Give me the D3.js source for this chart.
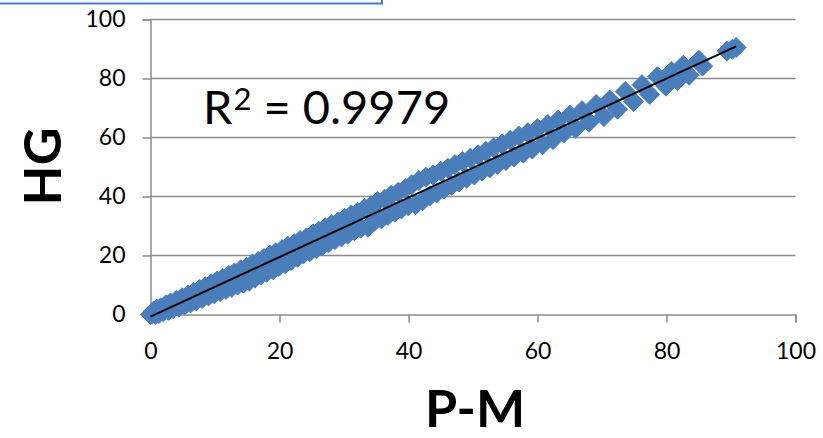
<!DOCTYPE html>
<html>
<head>
<meta charset="utf-8">
<script src="https://cdn.jsdelivr.net/npm/d3@7"></script>
<style>
  html, body { margin: 0; padding: 0; background: #fff; }
  svg { display: block; }
  text { font-family: Lato, "Open Sans", sans-serif; fill: #000; }
</style>
</head>
<body>
<svg id="chart" width="823" height="438"></svg>
<script>
// P-M readings (x) and matching HG readings (y)
const pmValues = [
  0, 0.2, 0.5, 0.8, 1, 1.3, 1.6, 2, 2.4, 2.8, 3.1, 3.5, 4, 4.4, 4.9, 5.3, 5.8, 6.2, 6.7, 7.1,
  7.6, 8, 8.5, 9, 9.4, 9.9, 10.3, 10.8, 11.2, 11.7, 12.1, 12.6, 13, 13.5, 14, 14.4, 14.9, 15.3, 15.8, 16.2,
  16.7, 17.1, 17.6, 18, 18.5, 19, 19.4, 19.9, 20.4, 20.9, 21.3, 21.8, 22.3, 22.8, 23.2, 23.7, 24.2, 24.7, 25.2, 25.7,
  26.1, 26.6, 27.1, 27.6, 28.1, 28.6, 29.1, 29.6, 30.1, 30.6, 31.1, 31.6, 32.1, 32.6, 33.2, 33.7, 34.2, 34.7, 35.2, 35.8,
  36.3, 36.8, 37.3, 37.9, 38.4, 38.9, 39.5, 40, 40.5, 41.1, 41.6, 42.2, 42.7, 43.3, 43.8, 44.4, 45, 45.5, 46.1, 46.7,
  47.2, 47.8, 48.4, 49, 49.6, 50.2, 50.8, 51.4, 52, 52.6, 53.2, 53.8, 54.5, 55.1, 55.8, 56.4, 57.1, 57.8, 58.5, 59.2,
  60, 60.8, 61.6, 62.4, 63.2, 64.1, 65, 65.9, 66.9, 68, 69.1, 70.3, 71.2, 72.4, 73.6, 74.9, 76.2, 77.4, 78.6, 79.9,
  80.8, 81.7, 82.6, 83.5, 85, 85.6, 89.4, 90.2, 90.8
];
const hgValues = [
  0, 0.1, 1.2, 0, 1.8, 0.3, 2.3, 0.9, 3.3, 1.4, 3.9, 2.0, 4.8, 2.5, 5.7, 3.2, 6.6, 3.9, 7.5, 4.6,
  8.5, 5.4, 9.4, 6.3, 10.4, 7.0, 11.3, 7.8, 12.2, 8.5, 13.3, 9.2, 14.1, 10.0, 15.2, 10.6, 16.0, 11.3, 17.1, 12.3,
  18.0, 13.4, 19.0, 14.3, 20.1, 15.2, 20.9, 16.3, 22.0, 17.2, 23.1, 18.3, 24.0, 19.4, 25.1, 20.5, 26.0, 21.3, 27.3, 22.4,
  28.2, 23.2, 29.4, 24.3, 30.5, 25.4, 31.4, 26.3, 32.6, 27.2, 33.7, 28.4, 34.6, 29.3, 36.0, 29.6, 36.9, 31.6, 38.3, 32.4,
  39.1, 33.6, 40.4, 34.7, 41.4, 35.8, 42.7, 36.9, 44.0, 37.2, 45.4, 38.6, 46.5, 40.2, 47.3, 41.3, 48.6, 42.5, 49.6, 43.8,
  50.8, 44.9, 51.9, 46.2, 53.0, 47.3, 54.1, 48.6, 55.3, 49.7, 56.5, 50.9, 57.8, 52.2, 59.1, 53.4, 60.5, 54.7, 61.6, 56.1,
  63.0, 57.6, 64.4, 59.3, 65.9, 61.6, 67.6, 63.1, 69.1, 65.2, 71.2, 67.1, 72.7, 69.6, 75.6, 72.2, 77.9, 74.6, 80.6, 77.4,
  82.4, 79.3, 84.5, 81.1, 86.2, 84.2, 89.3, 89.9, 90.5
];
const xTicks = [0, 20, 40, 60, 80, 100];
const yTicks = [0, 20, 40, 60, 80, 100];
const r2Label = "0.9979";

const svg = d3.select("#chart");
const plot = { left: 150.5, right: 795.5, top: 19.5, bottom: 314.5 };

const x = d3.scaleLinear().domain([0, 100]).range([plot.left, plot.right]);
const y = d3.scaleLinear().domain([0, 100]).range([plot.bottom, plot.top]);

const gridColor = "#8c8c8c";
const markColor = "#4a7ebb";

// leftover text-box frame along the top edge
svg.append("rect")
  .attr("x", -3).attr("y", -20)
  .attr("width", 385).attr("height", 23.5)
  .attr("fill", "none")
  .attr("stroke", markColor)
  .attr("stroke-width", 2);

// horizontal gridlines
svg.append("g")
  .selectAll("line")
  .data(yTicks.filter(d => d > 0))
  .join("line")
  .attr("x1", plot.left).attr("x2", plot.right)
  .attr("y1", d => y(d)).attr("y2", d => y(d))
  .attr("stroke", gridColor)
  .attr("stroke-width", 1.5);

// x axis
const xAxis = svg.append("g")
  .attr("transform", `translate(0,${plot.bottom})`)
  .call(d3.axisBottom(x).tickValues(xTicks).tickSize(8).tickPadding(20).tickFormat(d3.format("d")));
xAxis.select(".domain").attr("stroke", gridColor).attr("stroke-width", 1.5);
xAxis.selectAll(".tick line").attr("stroke", gridColor).attr("stroke-width", 1.5);
xAxis.selectAll(".tick text")
  .attr("font-size", 23)
  .attr("font-family", "Lato, 'Open Sans', sans-serif")
  .attr("fill", "#000");

// y axis
const yAxis = svg.append("g")
  .attr("transform", `translate(${plot.left},0)`)
  .call(d3.axisLeft(y).tickValues(yTicks).tickSize(8).tickPadding(17).tickFormat(d3.format("d")));
yAxis.select(".domain").attr("stroke", gridColor).attr("stroke-width", 1.5);
yAxis.selectAll(".tick line").attr("stroke", gridColor).attr("stroke-width", 1.5);
yAxis.selectAll(".tick text")
  .attr("font-size", 23)
  .attr("font-family", "Lato, 'Open Sans', sans-serif")
  .attr("fill", "#000");

// scatter points as diamonds
const points = pmValues.map((v, i) => ({ pm: v, hg: hgValues[i] }));
const h = 10;
svg.append("g")
  .selectAll("path")
  .data(points)
  .join("path")
  .attr("transform", d => `translate(${x(d.pm)},${y(d.hg)})`)
  .attr("d", `M0,${-h}L${h},0L0,${h}L${-h},0Z`)
  .attr("fill", markColor)
  .attr("stroke", markColor)
  .attr("stroke-width", 1)
  .attr("stroke-linejoin", "round");

// least-squares trend line across the P-M range
const mx = d3.mean(points, d => d.pm);
const my = d3.mean(points, d => d.hg);
const sxy = d3.sum(points, d => (d.pm - mx) * (d.hg - my));
const sxx = d3.sum(points, d => (d.pm - mx) ** 2);
const slope = sxy / sxx;
const intercept = my - slope * mx;
const [xMin, xMax] = d3.extent(pmValues);
svg.append("line")
  .attr("x1", x(xMin)).attr("y1", y(intercept + slope * xMin))
  .attr("x2", x(xMax)).attr("y2", y(intercept + slope * xMax))
  .attr("stroke", "#000")
  .attr("stroke-width", 2);

// R squared annotation
const r2 = svg.append("text")
  .attr("x", 203).attr("y", 124)
  .attr("font-size", 47);
r2.append("tspan").text("R");
r2.append("tspan").attr("font-size", 31).attr("dy", -14).attr("dx", 1).text("2");
r2.append("tspan").attr("dy", 14).text(" = " + r2Label);

// axis titles
svg.append("text")
  .attr("x", 475).attr("y", 427)
  .attr("text-anchor", "middle")
  .attr("font-size", 52)
  .attr("font-weight", 700)
  .text("P-M");

svg.append("text")
  .attr("transform", "translate(61,166.5) rotate(-90)")
  .attr("text-anchor", "middle")
  .attr("font-size", 52)
  .attr("font-weight", 700)
  .text("HG");
</script>
</body>
</html>
